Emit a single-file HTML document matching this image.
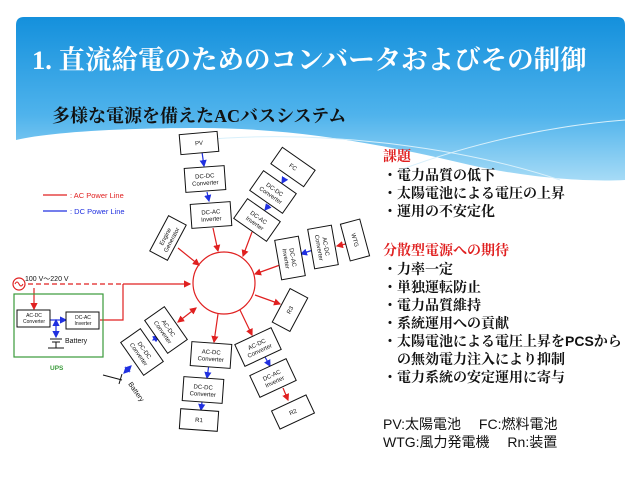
<!DOCTYPE html>
<html><head><meta charset="utf-8"><style>
body{margin:0;width:640px;height:480px;background:#fff;overflow:hidden;position:relative;font-family:"Liberation Sans","Noto Sans CJK JP",sans-serif}
.t{position:absolute;white-space:nowrap}
.r{position:absolute;left:383px;font-family:"Liberation Sans","Noto Serif CJK SC","Noto Sans CJK JP",sans-serif;font-weight:bold;font-size:14px;color:#111;line-height:18px;white-space:nowrap}
</style></head><body>
<svg width="640" height="480" style="position:absolute;left:0;top:0">
<defs><linearGradient id="g" x1="0" y1="0" x2="0" y2="1"><stop offset="0" stop-color="#1490dc"/><stop offset="0.6" stop-color="#4fb3ec"/><stop offset="1" stop-color="#a6dbf6"/></linearGradient>
<marker id="ar" markerWidth="6" markerHeight="6" refX="5" refY="3" orient="auto"><path d="M0,0L6,3L0,6z" fill="#e02020"/></marker>
<marker id="ab" markerWidth="6" markerHeight="6" refX="5" refY="3" orient="auto"><path d="M0,0L6,3L0,6z" fill="#2030e0"/></marker>
<marker id="ars" markerWidth="6" markerHeight="6" refX="1" refY="3" orient="auto"><path d="M6,0L0,3L6,6z" fill="#e02020"/></marker>
<marker id="abs" markerWidth="6" markerHeight="6" refX="1" refY="3" orient="auto"><path d="M6,0L0,3L6,6z" fill="#2030e0"/></marker>
</defs>
<path d="M24,17 H617 Q625,17 625,25 V180 C585,182 530,178 470,165 C390,146 300,128 200,128 C110,128 45,133 16,140 V25 Q16,17 24,17 Z" fill="url(#g)"/>
<path d="M200,140 C330,128 470,150 560,180" stroke="#d8f0fb" stroke-width="1" fill="none"/>
<path d="M400,170 C480,140 560,125 625,120" stroke="#d8f0fb" stroke-width="1" fill="none"/>
<g stroke="#e02020" stroke-width="1.2" fill="none">
<circle cx="224" cy="283" r="31"/>
<line x1="43" y1="195" x2="67" y2="195"/>
<line x1="213" y1="228" x2="218" y2="251" marker-end="url(#ar)"/>
<line x1="252" y1="232" x2="243" y2="256" marker-end="url(#ar)"/>
<line x1="280" y1="265" x2="255" y2="274" marker-end="url(#ar)"/>
<line x1="178" y1="248" x2="199" y2="265" marker-end="url(#ar)"/>
<line x1="255" y1="295" x2="280" y2="304" marker-end="url(#ar)"/>
<line x1="218" y1="314" x2="214" y2="342" marker-end="url(#ar)"/>
<line x1="240" y1="310" x2="252" y2="335" marker-end="url(#ar)"/>
<line x1="196" y1="308" x2="178" y2="322" marker-start="url(#ars)" marker-end="url(#ar)"/>
<line x1="350" y1="243" x2="337" y2="246" marker-end="url(#ar)"/>
<line x1="283" y1="388" x2="288" y2="400" marker-end="url(#ar)"/>
<line x1="28" y1="284" x2="123" y2="284" stroke-dasharray="5,3"/>
<line x1="123" y1="284" x2="190" y2="284" marker-end="url(#ar)"/>
<polyline points="100,320 123,320 123,284"/>
<line x1="34" y1="288" x2="34" y2="309" marker-end="url(#ar)"/>
<circle cx="19" cy="284" r="6"/>
</g>
<path d="M15,284 q2,-4 4,0 q2,4 4,0" stroke="#e02020" fill="none"/>
<g stroke="#2030e0" stroke-width="1.2" fill="none">
<line x1="43" y1="211" x2="67" y2="211"/>
<line x1="202" y1="152" x2="204" y2="166" marker-end="url(#ab)"/>
<line x1="207" y1="192" x2="209" y2="201" marker-end="url(#ab)"/>
<line x1="285" y1="178" x2="282" y2="183" marker-end="url(#ab)"/>
<line x1="269" y1="205" x2="265" y2="210" marker-end="url(#ab)"/>
<line x1="313" y1="250" x2="301" y2="254" marker-end="url(#ab)"/>
<line x1="209" y1="364" x2="207" y2="378" marker-end="url(#ab)"/>
<line x1="202" y1="402" x2="201" y2="410" marker-end="url(#ab)"/>
<line x1="265" y1="357" x2="270" y2="366" marker-end="url(#ab)"/>
<line x1="153" y1="340" x2="159" y2="336" marker-start="url(#abs)" marker-end="url(#ab)"/>
<line x1="124" y1="373" x2="131" y2="366" marker-start="url(#abs)" marker-end="url(#ab)"/>
<polyline points="50,320 66,320" marker-end="url(#ab)"/>
<line x1="56" y1="320" x2="56" y2="337" marker-start="url(#abs)" marker-end="url(#ab)"/>
</g>
<g stroke="#111" stroke-width="1" fill="none">
<line x1="50" y1="339" x2="62" y2="339"/><line x1="52" y1="342" x2="60" y2="342"/>
<line x1="56" y1="342" x2="56" y2="348"/><line x1="48" y1="348" x2="64" y2="348"/>
<line x1="103" y1="375" x2="122" y2="380"/><line x1="122" y1="374" x2="119" y2="384"/>
</g>
<rect x="14" y="294" width="89" height="63" fill="none" stroke="#3a9a3a" stroke-width="1.2"/>
<g font-family="Liberation Sans,sans-serif" font-size="6" fill="#111" text-anchor="middle" stroke="#111">
<g transform="translate(199,143) rotate(-5)"><rect x="-19" y="-10" width="38" height="20" fill="#fff"/><text y="2" stroke="none">PV</text></g>
<g transform="translate(205,179) rotate(-4)"><rect x="-20" y="-12" width="40" height="24" fill="#fff"/><text y="-1" stroke="none">DC-DC</text><text y="6" stroke="none">Converter</text></g>
<g transform="translate(211,215) rotate(-4)"><rect x="-20" y="-12" width="40" height="24" fill="#fff"/><text y="-1" stroke="none">DC-AC</text><text y="6" stroke="none">Inverter</text></g>
<g transform="translate(293,167) rotate(35)"><rect x="-20" y="-10" width="40" height="20" fill="#fff"/><text y="2" stroke="none">FC</text></g>
<g transform="translate(273,192) rotate(35)"><rect x="-20" y="-12" width="40" height="24" fill="#fff"/><text y="-1" stroke="none">DC-DC</text><text y="6" stroke="none">Converter</text></g>
<g transform="translate(257,220) rotate(35)"><rect x="-20" y="-12" width="40" height="24" fill="#fff"/><text y="-1" stroke="none">DC-AC</text><text y="6" stroke="none">Inverter</text></g>
<g transform="translate(355,240) rotate(75)"><rect x="-19" y="-10" width="38" height="20" fill="#fff"/><text y="2" stroke="none">WTG</text></g>
<g transform="translate(323,247) rotate(80)"><rect x="-20" y="-12" width="40" height="24" fill="#fff"/><text y="-1" stroke="none">AC-DC</text><text y="6" stroke="none">Converter</text></g>
<g transform="translate(290,258) rotate(80)"><rect x="-20" y="-12" width="40" height="24" fill="#fff"/><text y="-1" stroke="none">DC-AC</text><text y="6" stroke="none">Inverter</text></g>
<g transform="translate(168,238) rotate(-62)"><rect x="-20" y="-10" width="40" height="20" fill="#fff"/><text y="-1" stroke="none">Engine</text><text y="6" stroke="none">Generator</text></g>
<g transform="translate(290,310) rotate(-62)"><rect x="-19" y="-10" width="38" height="20" fill="#fff"/><text y="2" stroke="none">R3</text></g>
<g transform="translate(166,330) rotate(55)"><rect x="-20" y="-12" width="40" height="24" fill="#fff"/><text y="-1" stroke="none">AC-DC</text><text y="6" stroke="none">Converter</text></g>
<g transform="translate(142,352) rotate(55)"><rect x="-20" y="-12" width="40" height="24" fill="#fff"/><text y="-1" stroke="none">DC-DC</text><text y="6" stroke="none">Converter</text></g>
<g transform="translate(211,355) rotate(4)"><rect x="-20" y="-12" width="40" height="24" fill="#fff"/><text y="-1" stroke="none">AC-DC</text><text y="6" stroke="none">Converter</text></g>
<g transform="translate(203,390) rotate(4)"><rect x="-20" y="-12" width="40" height="24" fill="#fff"/><text y="-1" stroke="none">DC-DC</text><text y="6" stroke="none">Converter</text></g>
<g transform="translate(199,420) rotate(4)"><rect x="-19" y="-10" width="38" height="20" fill="#fff"/><text y="2" stroke="none">R1</text></g>
<g transform="translate(258,347) rotate(-25)"><rect x="-20" y="-12" width="40" height="24" fill="#fff"/><text y="-1" stroke="none">AC-DC</text><text y="6" stroke="none">Converter</text></g>
<g transform="translate(273,378) rotate(-25)"><rect x="-20" y="-12" width="40" height="24" fill="#fff"/><text y="-1" stroke="none">DC-AC</text><text y="6" stroke="none">Inverter</text></g>
<g transform="translate(293,412) rotate(-25)"><rect x="-19" y="-10" width="38" height="20" fill="#fff"/><text y="2" stroke="none">R2</text></g>
<g transform="translate(34,318)"><rect x="-17" y="-8" width="33" height="17" fill="#fff"/><text y="-1" font-size="5" stroke="none">AC-DC</text><text y="5" font-size="5" stroke="none">Converter</text></g>
<g transform="translate(83,320)"><rect x="-17" y="-8" width="33" height="17" fill="#fff"/><text y="-1" font-size="5" stroke="none">DC-AC</text><text y="5" font-size="5" stroke="none">Inverter</text></g>
</g>
<g font-family="Liberation Sans,sans-serif" font-size="7" fill="#111">
<text x="65" y="343">Battery</text>
<text x="25" y="281">100 V～220 V</text>
<text x="128" y="384" transform="rotate(55 128 384)">Battery</text>
<text x="70" y="198" fill="#e02020" font-size="7.5">: AC Power Line</text>
<text x="70" y="214" fill="#2030e0" font-size="7.5">: DC Power Line</text>
<text x="50" y="370" fill="#3a9a3a" font-weight="bold" font-size="6.5">UPS</text>
</g>
</svg>
<div class="t" style="left:32px;top:38px;font-family:'Liberation Serif','Noto Serif CJK SC',serif;font-weight:bold;font-size:26.5px;color:#fff;">1. 直流給電のためのコンバータおよびその制御</div>
<div class="t" style="left:52px;top:102px;font-family:'Liberation Serif','Noto Serif CJK SC',serif;font-weight:bold;font-size:18px;color:#111;">多様な電源を備えたACバスシステム</div>
<div class="r" style="top:147px;color:#e02020">課題</div>
<div class="r" style="top:166px">・電力品質の低下<br>・太陽電池による電圧の上昇<br>・運用の不安定化</div>
<div class="r" style="top:241px;color:#e02020">分散型電源への期待</div>
<div class="r" style="top:260px">・力率一定<br>・単独運転防止<br>・電力品質維持<br>・系統運用への貢献<br>・太陽電池による電圧上昇をPCSから<br>　の無効電力注入により抑制<br>・電力系統の安定運用に寄与</div>
<div class="r" style="top:415px;font-weight:normal;font-family:'Liberation Sans','Noto Sans CJK JP',sans-serif">PV:太陽電池　 FC:燃料電池<br>WTG:風力発電機　 Rn:装置</div>
</body></html>
